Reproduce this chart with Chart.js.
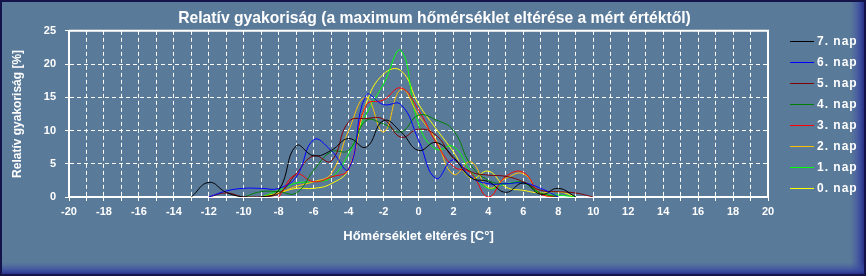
<!DOCTYPE html>
<html>
<head>
<meta charset="utf-8">
<script src="https://cdn.jsdelivr.net/npm/chart.js@4.4.1/dist/chart.umd.min.js"></script>
<style>
  html, body { margin: 0; padding: 0; background: #5a7a9a; }
  #wrap { width: 866px; height: 276px; }
</style>
</head>
<body>
<div id="wrap"><canvas id="c" width="866" height="276"></canvas></div>
<script>
// ---- data ----
const temps = [-13,-12,-11,-10,-9,-8,-7,-6,-5,-4,-3,-2,-1,0,1,2,3,4,5,6,7,8,9,10];
const seriesNames = ['7. nap','6. nap','5. nap','4. nap','3. nap','2. nap','1. nap','0. nap'];
const nap7 = [0, 2.2, 0.7, 0, 0, 1.0, 7.7, 6.2, 7.0, 8.8, 7.5, 11.5, 9.8, 7.0, 8.2, 6.0, 2.9, 2.3, 0.7, 2.1, 0.4, 1.3, 0, null];
const nap6 = [null, 0, 0.9, 1.3, 1.3, 1.3, 3.0, 8.6, 7.0, 4.2, 15.3, 13.9, 13.9, 8.6, 2.8, 5.6, 3.0, 2.0, 2.0, 2.1, 1.3, 0, null, null];
const nap5 = [null, 0, 0.6, 0, 0, 0.5, 3.5, 6.2, 5.4, 11.3, 11.8, 11.7, 9.0, 10.2, 9.3, 5.8, 3.8, 3.3, 3.1, 2.3, 1.0, 0.8, 0.6, 0];
const nap4 = [null, null, null, 0, 0.8, 0.8, 0.6, 4.0, 6.8, 7.0, 11.5, 11.0, 9.8, 12.3, 11.6, 10.0, 4.8, 2.5, 2.0, 2.2, 0.6, 0, null, null];
const nap3 = [null, null, null, null, null, 0, 3.4, 2.3, 3.0, 4.2, 13.8, 14.6, 16.4, 13.1, 8.2, 4.6, 3.6, 0, 3.1, 3.7, 0.4, 0, null, null];
const nap2 = [null, null, null, null, 0, 0.6, 1.6, 2.3, 3.5, 10.0, 15.0, 9.8, 16.2, 12.3, 8.6, 3.4, 5.3, 1.4, 2.8, 3.5, 0.5, 0, null, null];
const nap1 = [null, null, null, null, 0, 1.0, 2.1, 2.3, 2.9, 6.5, 12.4, 17.0, 22.0, 11.0, 7.2, 7.6, 3.8, 1.3, 2.0, 2.1, 0.5, 0.3, 0, null];
const nap0 = [null, null, null, null, 0, 0.6, 1.3, 1.3, 2.0, 4.2, 14.0, 18.5, 19.0, 14.0, 10.3, 6.8, 2.8, 3.9, 1.5, 1.0, 0.6, 0.8, 0, null];
const seriesValues = [nap7, nap6, nap5, nap4, nap3, nap2, nap1, nap0];
const seriesColors = ['#000000', '#0000ff', '#800000', '#008000', '#ff0000', '#ffc000', '#00ff00', '#ffff00'];
const xTickMin = -20, xTickMax = 20, yTickMax = 25;

const titleText = 'Relatív gyakoriság (a maximum hőmérséklet eltérése a mért értéktől)';
const xTitle = 'Hőmérséklet eltérés [C°]';
const yTitle = 'Relatív gyakoriság [%]';

const FONT = "'Liberation Sans', Arial, sans-serif";

const datasets = seriesNames.map((name, si) => ({
  label: name,
  data: temps.map((t, i) => ({x: t, y: seriesValues[si][i]})).filter(p => p.y !== null),
  borderColor: seriesColors[si],
  backgroundColor: seriesColors[si],
  borderWidth: 1,
  pointRadius: 0,
  tension: 0.45,
  fill: false
}));

const decor = {
  id: 'decor',
  afterLayout(c) {
    const t = c.titleBlock;
    if (t) { t.left = 0; t.right = 869; t.width = 869; }
  },
  beforeDraw(c) {
    const ctx = c.ctx, W = c.width, H = c.height;
    ctx.save();
    ctx.fillStyle = '#5a7a9a';
    ctx.fillRect(0, 0, W, H);
    let g = ctx.createLinearGradient(W - 16, 0, W, 0);
    g.addColorStop(0, 'rgba(70,90,160,0)');
    g.addColorStop(0.6, 'rgba(55,70,160,0.8)');
    g.addColorStop(1, 'rgba(30,30,120,1)');
    ctx.fillStyle = g;
    ctx.fillRect(W - 16, 0, 16, H);
    g = ctx.createLinearGradient(0, H - 14, 0, H);
    g.addColorStop(0, 'rgba(70,90,160,0)');
    g.addColorStop(0.6, 'rgba(55,70,160,0.8)');
    g.addColorStop(1, 'rgba(30,30,120,1)');
    ctx.fillStyle = g;
    ctx.fillRect(0, H - 14, W, 14);
    ctx.strokeStyle = '#14144a';
    ctx.lineWidth = 2;
    ctx.strokeRect(1, 1, W - 2, H - 2);
    ctx.restore();
  },
  beforeDatasetsDraw(c) {
    const ctx = c.ctx, a = c.chartArea;
    ctx.save();
    ctx.strokeStyle = '#ffffff';
    ctx.lineWidth = 2;
    ctx.beginPath();
    ctx.moveTo(a.left, a.top);
    ctx.lineTo(a.right, a.top);
    ctx.lineTo(a.right, a.bottom);
    ctx.stroke();
    ctx.restore();
  },
  afterDraw(c) {
    const ctx = c.ctx;
    ctx.save();
    ctx.font = "bold 12px " + FONT;
    ctx.textBaseline = 'middle';
    ctx.textAlign = 'left';
    try { ctx.letterSpacing = '1px'; } catch (e) {}
    c.data.datasets.forEach((ds, i) => {
      const y = 41.5 + i * 21;
      ctx.strokeStyle = ds.borderColor;
      ctx.lineWidth = 1;
      ctx.beginPath();
      ctx.moveTo(790, y);
      ctx.lineTo(814, y);
      ctx.stroke();
      ctx.fillStyle = '#ffffff';
      ctx.fillText(ds.label, 817, y);
    });
    ctx.restore();
  }
};

new Chart(document.getElementById('c'), {
  type: 'line',
  data: { datasets },
  plugins: [decor],
  options: {
    responsive: false,
    animation: false,
    events: [],
    layout: { padding: { left: 0, right: 98, top: 0, bottom: 0 } },
    plugins: {
      legend: { display: false },
      tooltip: { enabled: false },
      title: {
        display: true, text: titleText, color: '#ffffff',
        font: { family: FONT, size: 15.7, weight: 'bold', lineHeight: 1.2 },
        padding: { top: 9, bottom: 3 }
      }
    },
    scales: {
      x: {
        type: 'linear', min: xTickMin, max: xTickMax,
        afterFit(s) { s.height = 79; },
        ticks: {
          stepSize: 1, autoSkip: false, maxRotation: 0, color: '#ffffff', padding: 4,
          font: { family: FONT, size: 11, weight: 'bold' },
          callback: v => (v % 2 === 0 ? String(v) : '')
        },
        grid: { color: '#ffffff', lineWidth: 1, tickLength: 4, tickColor: '#ffffff' },
        border: { color: '#ffffff', width: 2, dash: [4, 3] },
        title: {
          display: true, text: xTitle, color: '#ffffff',
          font: { family: FONT, size: 13, weight: 'bold', lineHeight: 1.2 },
          padding: { top: 0, bottom: 32 }
        }
      },
      y: {
        min: 0, max: yTickMax,
        afterFit(s) { s.width = 69; },
        ticks: {
          stepSize: 5, color: '#ffffff', padding: 9,
          font: { family: FONT, size: 11, weight: 'bold' }
        },
        grid: { color: '#ffffff', lineWidth: 1, tickLength: 4, tickColor: '#ffffff' },
        border: { color: '#ffffff', width: 2, dash: [4, 3] },
        title: {
          display: true, text: yTitle, color: '#ffffff',
          font: { family: FONT, size: 12, weight: 'bold', lineHeight: 1.2 },
          padding: { top: 10, bottom: 0 }
        }
      }
    }
  }
});
</script>
</body>
</html>
